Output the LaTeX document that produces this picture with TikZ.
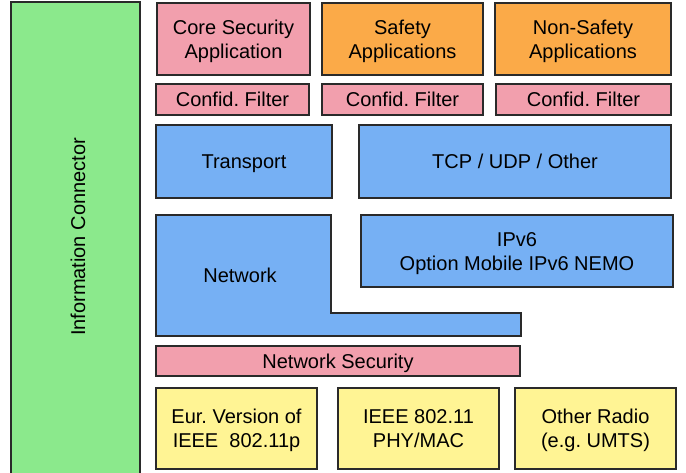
\documentclass[tikz,border=0pt]{standalone}
\usepackage{fontspec}
\setmainfont{Liberation Sans}
\frenchspacing
\definecolor{pinkc}{HTML}{F29FAD}
\definecolor{orangec}{HTML}{FBAA48}
\definecolor{bluec}{HTML}{76B0F4}
\definecolor{greenc}{HTML}{8BE98C}
\definecolor{yellowc}{HTML}{FFF494}
\definecolor{edgec}{HTML}{2A2A2A}
\newcommand\bx[7]{\node[boxline,fill=#6,minimum width={#4-#2},minimum height={#5-#3}] (#1) at ({(#2+#4)/2},{(#3+#5)/2}) {};
  \node[lbl] (#1-t) at ([yshift=-2.4pt]#1.center) {\strut #7\strut};}
\begin{document}
\begin{tikzpicture}[x=1pt,y=-1pt,
  boxline/.style={draw=edgec, line width=1.2pt, inner sep=0pt},
  lbl/.style={font=\fontsize{20}{24}\selectfont, align=center, inner sep=0pt}]
\useasboundingbox (0,0) rectangle (686,472);
% green connector
\draw[boxline, fill=greenc] (11,2) rectangle (140,490);
\node[lbl, rotate=90] (ic) at (78,237) {Information Connector};
% applications
\bx{core}{157}{3}{310}{75}{pinkc}{Core Security\\Application}
\bx{safe}{322}{3}{483}{75}{orangec}{Safety\\Applications}
\bx{nonsafe}{495}{3}{671}{75}{orangec}{Non-Safety\\Applications}
% filters
\bx{f1}{156}{84}{309}{115}{pinkc}{Confid. Filter}
\bx{f2}{322}{84}{483}{115}{pinkc}{Confid. Filter}
\bx{f3}{496}{84}{671}{115}{pinkc}{Confid. Filter}
% transport
\bx{trans}{156}{125}{332}{198}{bluec}{Transport}
\bx{tcp}{359}{125}{671}{198}{bluec}{TCP / UDP / Other}
% network
\draw[boxline, fill=bluec] (156,215) -- (331,215) -- (331,313) -- (521,313) -- (521,336) -- (156,336) -- cycle;
\node[lbl] (net) at ([yshift=-2.4pt]240,275) {\strut Network\strut};
\bx{ipv6}{361}{215}{673}{287}{bluec}{IPv6\\Option Mobile IPv6 NEMO}
% network security
\bx{netsec}{156}{346}{520}{376}{pinkc}{Network Security}
% radios
\bx{eur}{156}{388}{317}{469}{yellowc}{Eur. Version of\\IEEE~~802.11p}
\bx{ieee}{338}{388}{499}{469}{yellowc}{IEEE 802.11\\PHY/MAC}
\bx{other}{515}{388}{676}{469}{yellowc}{Other Radio\\(e.g. UMTS)}
\end{tikzpicture}
\end{document}
